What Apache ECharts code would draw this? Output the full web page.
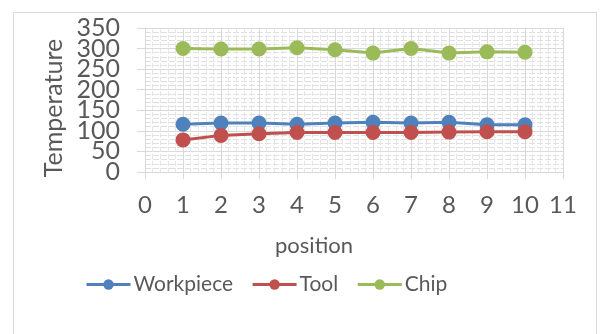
<!DOCTYPE html>
<html>
<head>
<meta charset="utf-8">
<script src="https://cdn.jsdelivr.net/npm/echarts@6/dist/echarts.min.js"></script>
<style>
  html, body { margin: 0; padding: 0; background: #fff; }
  #frame { position: absolute; left: 13px; top: 12px; width: 584px; height: 340px; border: 1px solid #d9d9d9; box-sizing: border-box; }
  #chart { position: absolute; left: 0; top: 0; width: 600px; height: 334px; }
</style>
</head>
<body>
<div id="frame"></div>
<div id="chart"></div>
<script>
// Temperature readings at each measuring position
const positions = [1, 2, 3, 4, 5, 6, 7, 8, 9, 10];
const workpiece = [116, 119, 119, 116, 119, 121, 119, 121, 115, 115];
const tool      = [78, 89, 93, 96, 96, 96, 96, 97, 98, 98];
const chip      = [300, 299, 299, 302, 297, 289, 300, 289, 292, 291];

const seriesNames = ['Workpiece', 'Tool', 'Chip'];
const seriesColors = ['#4F81BD', '#C0504D', '#9BBB59'];
const seriesValues = [workpiece, tool, chip];

const font = 'Lato, "Open Sans", sans-serif';
const textColor = '#595959';
const yMin = 0, yMax = 350, yStep = 50;

// The tall tick labels sit closer than their own height, so the left scale
// is split over two stacked axes: one labels the hundreds, the other the fifties.
function tempAxis(showHundreds, withLines) {
  return {
    type: 'value',
    position: 'left',
    offset: 0,
    min: yMin, max: yMax, interval: yStep,
    axisLine: { show: withLines, lineStyle: { color: '#d9d9d9', width: 1 } },
    axisTick: { show: withLines, length: 8, lineStyle: { color: '#d9d9d9' } },
    axisLabel: {
      margin: 25,
      fontFamily: font, fontSize: 25, color: textColor,
      showMinLabel: true, showMaxLabel: true, hideOverlap: false,
      formatter: v => ((v % 100 === 0) === showHundreds ? String(v) : '')
    },
    splitLine: { show: withLines, lineStyle: { color: '#d9d9d9', width: 1 } },
    minorTick: { show: false, splitNumber: 5 },
    minorSplitLine: { show: withLines, lineStyle: { color: '#e0e0e0', width: 1, type: [6, 2] } }
  };
}

const chart = echarts.init(document.getElementById('chart'));
chart.setOption({
  animation: false,
  grid: { left: 145, right: 37, top: 28, bottom: 162 },
  graphic: [{
    type: 'text',
    x: 54, y: 108,
    rotation: Math.PI / 2,
    style: {
      text: 'Temperature',
      font: '25px ' + font,
      fill: textColor,
      align: 'center',
      verticalAlign: 'middle'
    }
  }],
  legend: {
    data: seriesNames,
    top: 274,
    left: 85,
    padding: 0,
    itemWidth: 44,
    itemHeight: 13,
    itemGap: 18,
    lineStyle: { width: 3 },
    textStyle: { fontFamily: font, fontSize: 21, color: textColor, padding: [0, 0, 0, -2] }
  },
  xAxis: {
    type: 'value',
    min: 0, max: 11, interval: 1,
    name: 'position',
    nameLocation: 'middle',
    nameGap: 63,
    nameTextStyle: { fontFamily: font, fontSize: 22, color: textColor, padding: [0, 80, 0, 0] },
    axisLine: { show: true, lineStyle: { color: '#d9d9d9', width: 1 } },
    axisTick: { show: true, length: 7, lineStyle: { color: '#d9d9d9' } },
    axisLabel: { fontFamily: font, fontSize: 24, color: textColor, margin: 21, hideOverlap: false },
    splitLine: { show: true, lineStyle: { color: '#d9d9d9', width: 1 } },
    minorTick: { show: false, splitNumber: 5 },
    minorSplitLine: { show: true, lineStyle: { color: '#e6e6e6', width: 1, type: [5, 2] } }
  },
  yAxis: [tempAxis(true, true), tempAxis(false, false)],
  series: seriesNames.map((name, i) => ({
    name,
    type: 'line',
    yAxisIndex: 0,
    data: positions.map((p, j) => [p, seriesValues[i][j]]),
    symbol: 'circle',
    symbolSize: 15,
    lineStyle: { color: seriesColors[i], width: 3 },
    itemStyle: { color: seriesColors[i] }
  }))
});
</script>
</body>
</html>
